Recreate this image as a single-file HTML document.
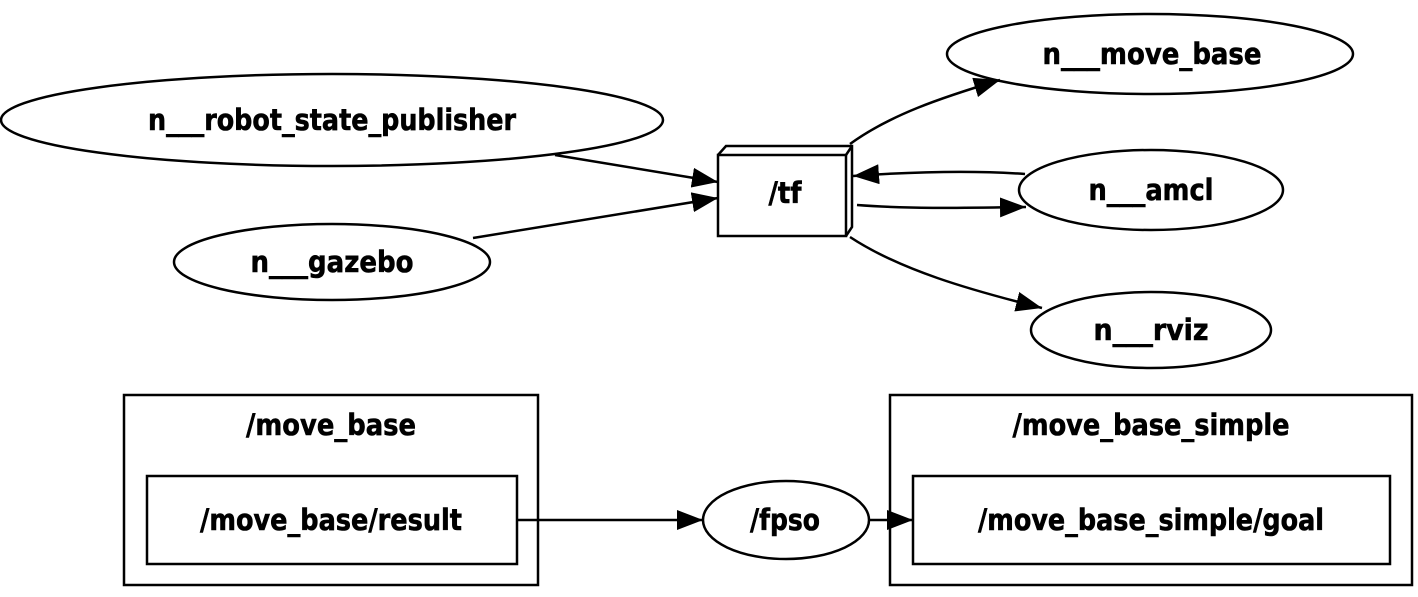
<!DOCTYPE html>
<html><head><meta charset="utf-8"><style>
html,body{margin:0;padding:0;background:#fff;}
svg{display:block;}
text{font-family:"DejaVu Sans","Liberation Sans",sans-serif;font-weight:bold;font-size:29px;text-anchor:middle;fill:#000;stroke:#000;stroke-width:0.6px;}
</style></head><body>
<svg width="1418" height="597" viewBox="0 0 1418 597" xmlns="http://www.w3.org/2000/svg">
<defs>
<marker id="a" markerWidth="27" markerHeight="20" refX="26" refY="10" orient="auto" markerUnits="userSpaceOnUse">
<path d="M0,0 L26,10 L0,20 Z" fill="#000"/>
</marker>
</defs>
<g fill="none" stroke="#000" stroke-width="2.5">
<ellipse cx="332" cy="120" rx="331" ry="46"/>
<ellipse cx="332" cy="262" rx="158" ry="38"/>
<ellipse cx="1150" cy="54" rx="203" ry="40"/>
<ellipse cx="1151" cy="190" rx="132" ry="40"/>
<ellipse cx="1151" cy="330" rx="120" ry="38"/>
<ellipse cx="786" cy="520" rx="83" ry="39"/>
<rect x="718" y="155" width="128" height="81"/>
<path d="M718,155 L726,146 L852,146 L852,227 L846,236 M846,155 L852,146"/>
<rect x="124" y="395" width="414" height="190"/>
<rect x="147" y="476" width="370" height="88"/>
<rect x="890" y="395" width="522" height="190"/>
<rect x="913" y="476" width="477" height="88"/>
<path d="M555,155 L718,182" marker-end="url(#a)"/>
<path d="M473,238 L718,198" marker-end="url(#a)"/>
<path d="M850,144 C890,115 940,98 1000,80" marker-end="url(#a)"/>
<path d="M1025,174 C970,170 910,172 853,176" marker-end="url(#a)"/>
<path d="M857,205 C910,209 960,208 1026,207" marker-end="url(#a)"/>
<path d="M850,237 C900,270 970,290 1042,308" marker-end="url(#a)"/>
<path d="M517,520 L703,520" marker-end="url(#a)"/>
<path d="M869,520 L913,520" marker-end="url(#a)"/>
</g>
<text x="332" y="130" textLength="368" lengthAdjust="spacingAndGlyphs">n___robot_state_publisher</text>
<text x="332" y="272" textLength="163" lengthAdjust="spacingAndGlyphs">n___gazebo</text>
<text x="1152" y="64" textLength="219" lengthAdjust="spacingAndGlyphs">n___move_base</text>
<text x="1151" y="200" textLength="125" lengthAdjust="spacingAndGlyphs">n___amcl</text>
<text x="1151" y="340" textLength="115" lengthAdjust="spacingAndGlyphs">n___rviz</text>
<text x="785" y="203" textLength="33" lengthAdjust="spacingAndGlyphs">/tf</text>
<text x="331" y="435" textLength="170" lengthAdjust="spacingAndGlyphs">/move_base</text>
<text x="331" y="530" textLength="262" lengthAdjust="spacingAndGlyphs">/move_base/result</text>
<text x="785" y="530" textLength="70" lengthAdjust="spacingAndGlyphs">/fpso</text>
<text x="1151" y="435" textLength="277" lengthAdjust="spacingAndGlyphs">/move_base_simple</text>
<text x="1151" y="530" textLength="346" lengthAdjust="spacingAndGlyphs">/move_base_simple/goal</text>
</svg>
</body></html>
